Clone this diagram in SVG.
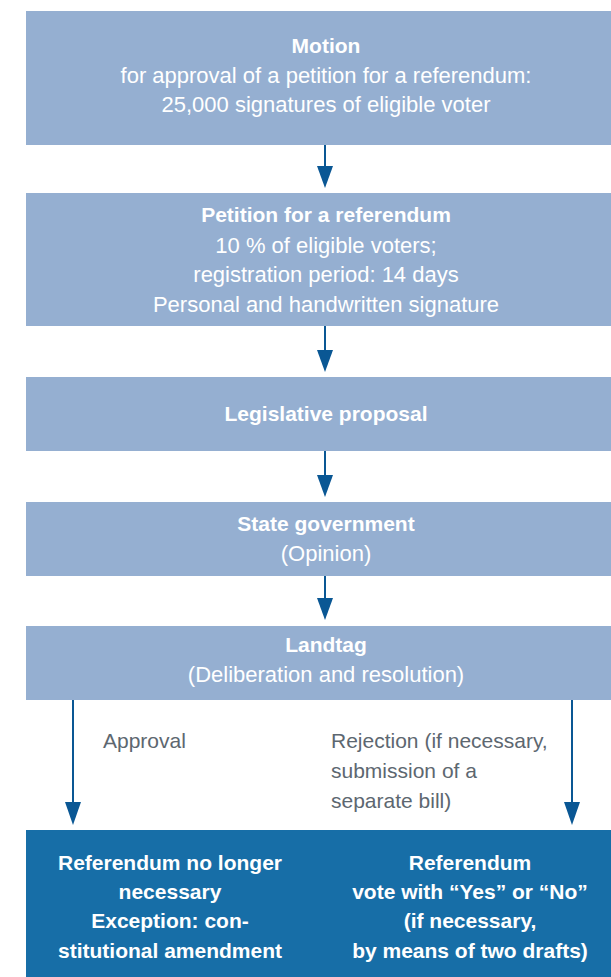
<svg xmlns="http://www.w3.org/2000/svg" width="611" height="977" viewBox="0 0 611 977">
  <defs>
    <style>
      .box { fill: #95afd1; }
      .dark { fill: #176ea7; }
      text { font-family: "Liberation Sans", Arial, sans-serif; fill: #ffffff; text-anchor: middle; }
      .h { font-weight: bold; font-size: 21px; }
      .r { font-size: 22px; }
      .b { font-weight: bold; font-size: 21px; }
      .lbl { font-size: 21px; fill: #5d6770; text-anchor: start; }
      .conn { stroke: #0a5794; stroke-width: 2; fill: none; }
    </style>
    <marker id="ah" markerWidth="16" markerHeight="22" refX="8" refY="22" orient="auto-start-reverse" markerUnits="userSpaceOnUse" viewBox="0 0 16 22">
      <path d="M0,0 L16,0 L8,22 Z" fill="#0a5794"/>
    </marker>
  </defs>
  <rect width="611" height="977" fill="#ffffff"/>

  <g id="connectors">
    <line class="conn" x1="325" y1="145" x2="325" y2="166"/>
    <path d="M317,166 L333,166 L325,188 Z" fill="#0a5794"/>
    <line class="conn" x1="325" y1="326" x2="325" y2="350"/>
    <path d="M317,350 L333,350 L325,372 Z" fill="#0a5794"/>
    <line class="conn" x1="325" y1="451" x2="325" y2="475"/>
    <path d="M317,475 L333,475 L325,497 Z" fill="#0a5794"/>
    <line class="conn" x1="325" y1="576" x2="325" y2="598"/>
    <path d="M317,598 L333,598 L325,620 Z" fill="#0a5794"/>
    <line class="conn" x1="73" y1="700" x2="73" y2="803"/>
    <path d="M65,802 L81,802 L73,825 Z" fill="#0a5794"/>
    <line class="conn" x1="572" y1="700" x2="572" y2="803" stroke-width="1.5"/>
    <path d="M564,802 L580,802 L572,825 Z" fill="#0a5794"/>
    <text class="lbl" x="103" y="748">Approval</text>
    <text class="lbl" x="331" y="748">Rejection (if necessary,</text>
    <text class="lbl" x="331" y="778">submission of a</text>
    <text class="lbl" x="331" y="808">separate bill)</text>
  </g>

  <g id="motion">
    <rect class="box" x="26" y="11" width="585" height="134"/>
    <text class="h" x="326" y="53">Motion</text>
    <text class="r" x="326" y="83">for approval of a petition for a referendum:</text>
    <text class="r" x="326" y="112">25,000 signatures of eligible voter</text>
  </g>

  <g id="petition">
    <rect class="box" x="26" y="193" width="585" height="133"/>
    <text class="h" x="326" y="222">Petition for a referendum</text>
    <text class="r" x="326" y="253">10 % of eligible voters;</text>
    <text class="r" x="326" y="282">registration period: 14 days</text>
    <text class="r" x="326" y="312">Personal and handwritten signature</text>
  </g>

  <g id="proposal">
    <rect class="box" x="26" y="377" width="585" height="74"/>
    <text class="h" x="326" y="421">Legislative proposal</text>
  </g>

  <g id="government">
    <rect class="box" x="26" y="502" width="585" height="74"/>
    <text class="h" x="326" y="531">State government</text>
    <text class="r" x="326" y="561">(Opinion)</text>
  </g>

  <g id="landtag">
    <rect class="box" x="26" y="626" width="585" height="74"/>
    <text class="h" x="326" y="652">Landtag</text>
    <text class="r" x="326" y="682">(Deliberation and resolution)</text>
  </g>

  <g id="results">
    <rect class="dark" x="26" y="830" width="585" height="147"/>
    <g id="no-referendum">
      <text class="b" x="170" y="870">Referendum no longer</text>
      <text class="b" x="170" y="899">necessary</text>
      <text class="b" x="170" y="928">Exception: con-</text>
      <text class="b" x="170" y="958">stitutional amendment</text>
    </g>
    <g id="referendum">
      <text class="b" x="470" y="870">Referendum</text>
      <text class="b" x="470" y="899">vote with “Yes” or “No”</text>
      <text class="b" x="470" y="928">(if necessary,</text>
      <text class="b" x="470" y="958">by means of two drafts)</text>
    </g>
  </g>
</svg>
